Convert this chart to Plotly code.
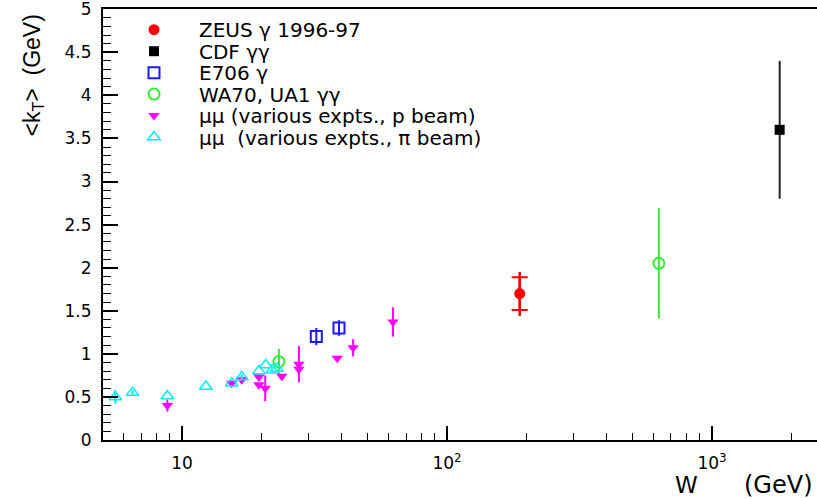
import numpy as np
import plotly.graph_objects as go

# ---- data ----
zeus_w = [188]
zeus_k = [1.70]
zeus_err_up = [0.25]
zeus_err_dn = [0.26]
zeus_stat = [0.19]

cdf_w = [1800]
cdf_k = [3.60]
cdf_err = [0.80]

e706_w = [32.1, 39.1]
e706_k = [1.20, 1.30]
e706_err = [0.10, 0.09]

wa70_w = [23.2, 630]
wa70_k = [0.91, 2.05]
wa70_err = [0.15, 0.64]

mup_w = [8.8, 15.4, 16.8, 19.5, 19.5, 20.6, 23.8, 27.6, 27.6, 38.5, 44.2, 62.5]
mup_k = [0.40, 0.66, 0.70, 0.73, 0.64, 0.60, 0.74, 0.88, 0.82, 0.95, 1.07, 1.37]
mup_err = [0.07, 0.03, 0.04, 0.0, 0.0, 0.15, 0.0, 0.21, 0.0, 0.0, 0.10, 0.17]

mupi_w = [5.6, 6.5, 8.8, 12.3, 15.4, 16.8, 19.5, 20.7, 21.9, 22.8]
mupi_k = [0.50, 0.55, 0.51, 0.62, 0.66, 0.73, 0.80, 0.87, 0.81, 0.83]
mupi_err = [0.08, 0.03, 0.0, 0.0, 0.0, 0.03, 0.0, 0.0, 0.0, 0.0]

legend_labels = ["ZEUS γ 1996-97", "CDF γγ", "E706 γ", "WA70, UA1 γγ",
                 "μμ (various expts., p beam)",
                 "μμ\u00a0\u00a0(various expts., π beam)"]

x_tickvals = [10, 100, 1000]
x_ticktext = ["10", "10<sup>2</sup>", "10<sup>3</sup>"]
x_minor = [6, 7, 8, 9, 20, 30, 40, 50, 60, 70, 80, 90,
           200, 300, 400, 500, 600, 700, 800, 900, 2000]

FONT = "DejaVu Sans, Liberation Sans, Arial, sans-serif"
FONT2 = "Liberation Sans, Arial, sans-serif"

# plot area geometry (pixels) used to place text
W_PX, H_PX = 817, 499
M_L, M_R, M_T, M_B = 103, 0, 9, 59
PW = W_PX - M_L - M_R
PH = H_PX - M_T - M_B


def px_to_paper_x(px):
    return (px - M_L) / PW


def px_to_paper_y(py):
    return (H_PX - M_B - py) / PH


fig = go.Figure()

fig.add_trace(go.Scatter(
    x=zeus_w, y=zeus_k, mode="markers", name="",
    marker=dict(symbol="circle", size=11, color="#ff0000"),
    error_y=dict(type="data", array=zeus_err_up, arrayminus=zeus_err_dn,
                 color="#ff0000", thickness=2.5, width=0)))
fig.add_trace(go.Scatter(
    x=zeus_w, y=zeus_k, mode="markers", showlegend=False,
    marker=dict(size=1, color="rgba(0,0,0,0)"),
    error_y=dict(type="data", array=zeus_stat, color="#ff0000",
                 thickness=2, width=8)))
fig.add_trace(go.Scatter(
    x=cdf_w, y=cdf_k, mode="markers", name="",
    marker=dict(symbol="square", size=10, color="#000000"),
    error_y=dict(type="data", array=cdf_err, color="#222222",
                 thickness=2, width=0)))
fig.add_trace(go.Scatter(
    x=e706_w, y=e706_k, mode="markers", name="",
    marker=dict(symbol="square-open", size=11, color="#1a1aff",
                line=dict(width=2)),
    error_y=dict(type="data", array=e706_err, color="#1a1aff",
                 thickness=2, width=0)))
fig.add_trace(go.Scatter(
    x=wa70_w, y=wa70_k, mode="markers", name="",
    marker=dict(symbol="circle-open", size=11, color="#33ee33",
                line=dict(width=2)),
    error_y=dict(type="data", array=wa70_err, color="#33ee33",
                 thickness=2, width=0)))
fig.add_trace(go.Scatter(
    x=mup_w, y=mup_k, mode="markers", name="",
    marker=dict(symbol="triangle-down", size=10, color="#ff00ff"),
    error_y=dict(type="data", array=mup_err, color="#ff00ff",
                 thickness=2, width=0)))
fig.add_trace(go.Scatter(
    x=mupi_w, y=mupi_k, mode="markers", name="",
    marker=dict(symbol="triangle-up-open", size=11, color="#00eeee",
                line=dict(width=1.5)),
    error_y=dict(type="data", array=mupi_err, color="#00eeee",
                 thickness=2, width=0)))

# legend text rows (pixel centres) matched to the compact legend spacing
row0, row_step = 30, 21.6
annotations = []
for i, lab in enumerate(legend_labels):
    annotations.append(dict(
        text=lab, xref="paper", yref="paper",
        x=px_to_paper_x(197), y=px_to_paper_y(row0 + i * row_step),
        xanchor="left", yanchor="middle", showarrow=False,
        font=dict(size=20, family=FONT, color="black")))

annotations += [
    dict(text="&lt;k<sub>T</sub>&gt;  (GeV)", xref="paper", yref="paper",
         x=px_to_paper_x(16), y=px_to_paper_y(13), xanchor="left",
         yanchor="top", textangle=-90, showarrow=False,
         font=dict(size=23, family=FONT2)),
    dict(text="W", xref="paper", yref="paper",
         x=px_to_paper_x(686), y=px_to_paper_y(485), xanchor="center",
         yanchor="middle", showarrow=False,
         font=dict(size=23, family=FONT)),
    dict(text="(GeV)", xref="paper", yref="paper",
         x=px_to_paper_x(815), y=px_to_paper_y(485), xanchor="right",
         yanchor="middle", showarrow=False,
         font=dict(size=24, family=FONT)),
]

fig.update_layout(
    width=W_PX, height=H_PX,
    margin=dict(l=M_L, r=M_R, t=M_T, b=M_B),
    paper_bgcolor="white", plot_bgcolor="white",
    font=dict(family=FONT, color="black", size=16),
    showlegend=True,
    legend=dict(x=px_to_paper_x(119), y=px_to_paper_y(14),
                xanchor="left", yanchor="top",
                bgcolor="rgba(0,0,0,0)", font=dict(size=14.2, family=FONT),
                itemwidth=60, tracegroupgap=0),
    xaxis=dict(type="log", range=[np.log10(5.03), np.log10(2490)],
               showline=True, linecolor="black", linewidth=2, mirror=True,
               showgrid=False, zeroline=False,
               ticks="inside", ticklen=14, tickwidth=1.5, tickcolor="black",
               tickvals=x_tickvals, ticktext=x_ticktext,
               tickfont=dict(size=17), ticklabelstandoff=7,
               minor=dict(ticks="inside", ticklen=7, tickwidth=1.2,
                          tickcolor="black", tickvals=x_minor, showgrid=False)),
    yaxis=dict(range=[0, 5.002], dtick=0.5, tick0=0,
               showline=True, linecolor="black", linewidth=2,
               showgrid=False, zeroline=False,
               ticks="inside", ticklen=15, tickwidth=1.5, tickcolor="black",
               tickfont=dict(size=17), ticklabelstandoff=6,
               ticklabeloverflow="allow",
               minor=dict(ticks="inside", ticklen=8, tickwidth=1.2,
                          tickcolor="black", dtick=0.1, showgrid=False)),
    annotations=annotations,
)

fig.write_html("out.html")
